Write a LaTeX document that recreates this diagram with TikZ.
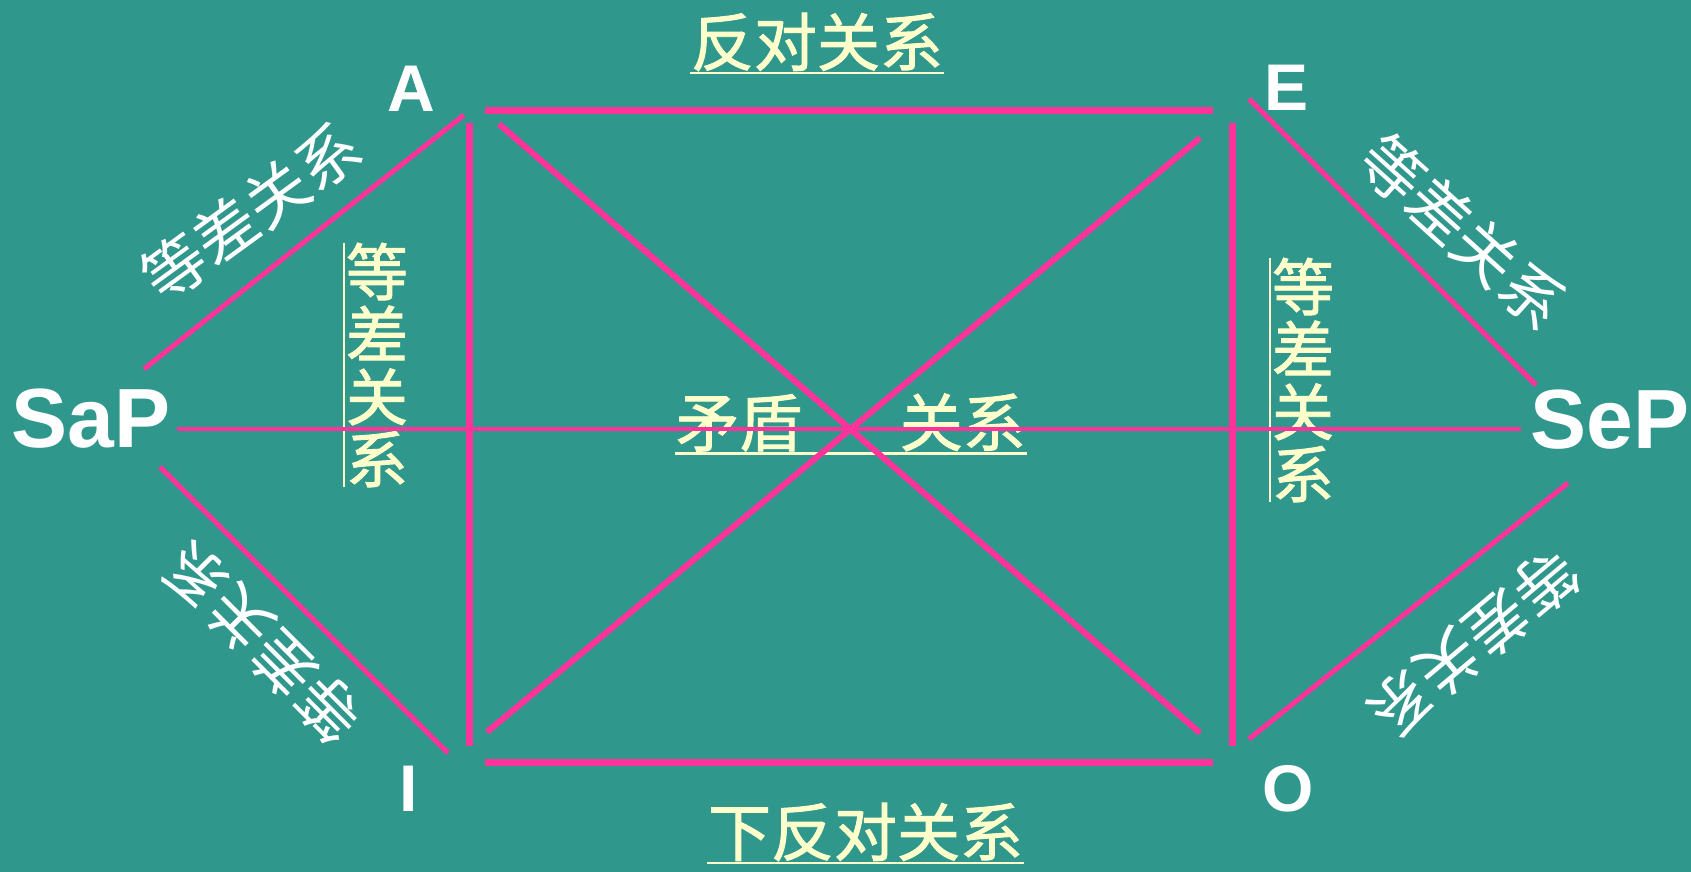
\documentclass[tikz,border=0pt]{standalone}
\usepackage{fontspec}
\setmainfont{Liberation Sans}
\newfontfamily\cjk{Noto Sans CJK SC}
\newfontfamily\cjkb{Noto Sans CJK SC}[FakeBold=1.5]
\definecolor{bg}{RGB}{48,151,141}
\definecolor{pk}{RGB}{255,51,153}
\definecolor{ly}{RGB}{255,255,204}
\begin{document}
\begin{tikzpicture}[x=1pt,y=-1pt,
  edgeline/.style={pk, line width=7pt},
  diagline/.style={pk, line width=6pt},
  sideline/.style={pk, line width=5pt},
  midline/.style={pk, line width=4pt},
  uline/.style={ly, line width=2.5pt},
  cjklabel/.style={ly, font={\cjkb\fontsize{63}{63}\selectfont}, inner xsep=1pt, inner ysep=2pt, outer sep=0pt},
  vlabel/.style={ly, font={\cjkb\fontsize{62}{62.5}\selectfont}, align=center, inner xsep=2pt, inner ysep=0pt, outer sep=0pt},
  slantlabel/.style={white, font={\cjk\fontsize{63}{63}\selectfont}, inner sep=0pt},
  letter/.style={white, font={\bfseries\fontsize{66}{66}\selectfont}, inner sep=0pt, anchor=base},
  bigletter/.style={white, font={\bfseries\fontsize{84}{84}\selectfont}, inner sep=0pt, anchor=base}
]
\fill[bg] (0,0) rectangle (1691,872);
\useasboundingbox (0,0) rectangle (1691,872);

% texts
\node[cjklabel] (t1) at (817,42) {反对关系};
\draw[uline] (t1.south west) -- (t1.south east);
\node[cjklabel] (t2) at (865.5,832) {下反对关系};
\draw[uline] (t2.south west) -- (t2.south east);
\node[cjklabel] (t3) at (851,422.5) {矛盾\hspace{1.55em}关系};
\draw[uline] (t3.south west) -- (t3.south east);

\node[vlabel] (v1) at (377,365) {等\\差\\关\\系};
\draw[uline] (v1.north west) -- (v1.south west);
\node[vlabel] (v2) at (1303,380) {等\\差\\关\\系};
\draw[uline] (v2.north west) -- (v2.south west);

\node[slantlabel, rotate=36] (r1) at (251,212) {等差关系};
\node[slantlabel, rotate=-42] (r2) at (1463,232) {等差关系};
\node[slantlabel, rotate=135] (r3) at (262,642) {等差关系};
\node[slantlabel, rotate=220] (r4) at (1473,643) {等差关系};

\node[letter] (A) at (411,112) {A};
\node[letter] (E) at (1286,111) {E};
\node[letter] (I) at (409,811) {I};
\node[letter] (O) at (1288,811) {O};
\node[bigletter] (SaP) at (91,447) {SaP};
\node[bigletter] (SeP) at (1610,448) {SeP};

% line end points
\coordinate (aeL) at (485,111); \coordinate (aeR) at (1213,111);
\coordinate (ioL) at (485,762); \coordinate (ioR) at (1213,762);
\coordinate (aiT) at (469,123); \coordinate (aiB) at (469,746);
\coordinate (eoT) at (1232,123); \coordinate (eoB) at (1232,746);
\coordinate (ao1) at (499,124); \coordinate (ao2) at (1200,733);
\coordinate (ie1) at (487,732); \coordinate (ie2) at (1200,138);
\coordinate (m1) at (177,429); \coordinate (m2) at (1521,429);
\coordinate (sa1) at (144,369); \coordinate (sa2) at (464,115);
\coordinate (si1) at (160,467); \coordinate (si2) at (448,753);
\coordinate (se1) at (1249,99); \coordinate (se2) at (1536,385);
\coordinate (so1) at (1568,483); \coordinate (so2) at (1249,739);

% lines
\draw[edgeline] (aeL) -- (aeR);
\draw[edgeline] (ioL) -- (ioR);
\draw[edgeline] (aiT) -- (aiB);
\draw[edgeline] (eoT) -- (eoB);
\draw[diagline] (ao1) -- (ao2);
\draw[diagline] (ie1) -- (ie2);
\draw[midline] (m1) -- (m2);
\draw[sideline] (sa1) -- (sa2);
\draw[sideline] (si1) -- (si2);
\draw[sideline] (se1) -- (se2);
\draw[sideline] (so1) -- (so2);
\end{tikzpicture}
\end{document}
